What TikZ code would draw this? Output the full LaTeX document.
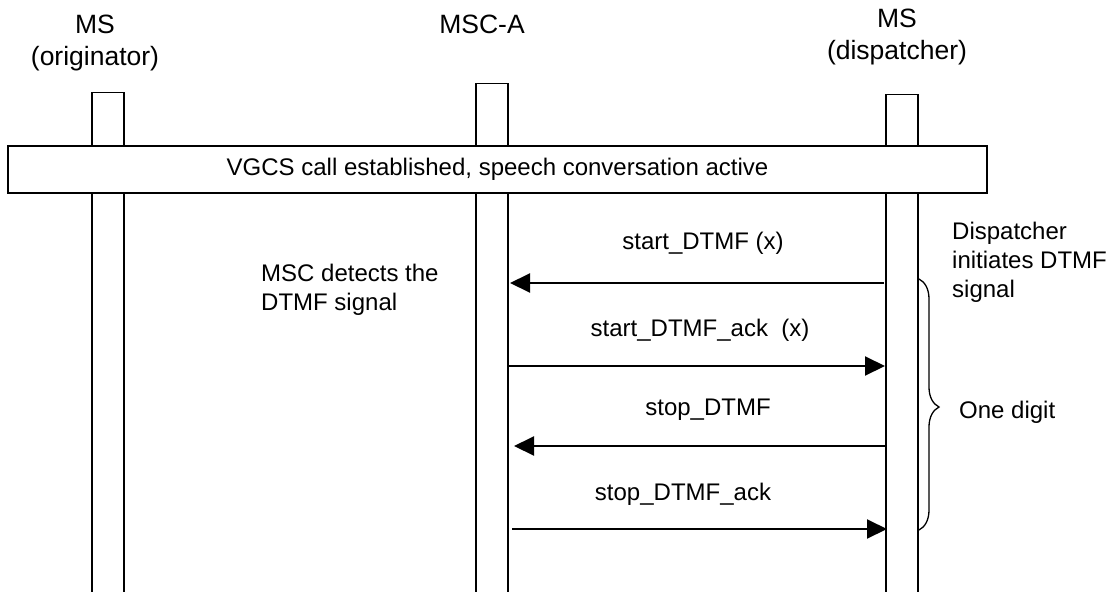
\documentclass[tikz,border=0pt]{standalone}
\usepackage{fontspec}
\setmainfont{Liberation Sans}
\usetikzlibrary{arrows.meta,decorations.pathreplacing}
\begin{document}
\begin{tikzpicture}[x=1pt,y=-1pt,
  lbl/.style={font=\fontsize{24}{29}\selectfont, inner sep=0pt},
  head/.style={font=\fontsize{26.5}{31.5}\selectfont, inner sep=0pt, align=center},
  lifebox/.style={draw, line width=1.4pt, minimum width=32pt, inner sep=0pt},
  msg/.style={line width=2pt,-{Triangle[length=20pt,width=19pt]}},
  bracestyle/.style={line width=1.3pt, decorate, decoration={brace, amplitude=20pt, aspect=0.51}}]
\useasboundingbox (0,0) rectangle (1112,592);
\fill[white] (0,0) rectangle (1112,592);
% lifelines (open at bottom)
\node[lifebox, minimum height=560pt, anchor=north] (orig) at (108,92) {};
\node[lifebox, minimum height=560pt, anchor=north] (msca) at (492,83) {};
\node[lifebox, minimum height=560pt, anchor=north] (disp) at (902,94) {};
% headers
\node[head] (horig) at (95,43) {MS\\(originator)};
\node[head] (hmsca) at (482,24) {MSC-A};
\node[head] (hdisp) at (897,37) {MS\\(dispatcher)};
% common box
\node[draw, fill=white, line width=1.4pt, minimum width=979pt, minimum height=47pt, inner sep=0pt, lbl] (vgcs) at (497.5,169.5) {VGCS call established, speech conversation active};
% message end points
\coordinate (a1s) at (884,283);
\coordinate (a1e) at (510,283);
\coordinate (a2s) at (509,366);
\coordinate (a2e) at (885,366);
\coordinate (a3s) at (885,446);
\coordinate (a3e) at (514,446);
\coordinate (a4s) at (512,529);
\coordinate (a4e) at (887,529);
\draw[msg] (a1s) -- (a1e);
\draw[msg] (a2s) -- (a2e);
\draw[msg] (a3s) -- (a3e);
\draw[msg] (a4s) -- (a4e);
\node[lbl] (l1) at (703,243) {start\_DTMF (x)};
\node[lbl] (l2) at (700,330) {start\_DTMF\_ack\ \ (x)};
\node[lbl] (l3) at (708,410) {stop\_DTMF};
\node[lbl] (l4) at (683,494) {stop\_DTMF\_ack};
% notes
\node[lbl, align=left, anchor=west] (n1) at (261,290) {MSC detects the\\DTMF signal};
\node[lbl, align=left, anchor=west] (n2) at (952,262) {Dispatcher\\initiates DTMF\\signal};
% brace
\coordinate (b1) at (919,279);
\coordinate (b2) at (919,530);
\draw[bracestyle] (b1) -- (b2);
\node[lbl, anchor=west] (n3) at (959,412) {One digit};
\end{tikzpicture}
\end{document}
